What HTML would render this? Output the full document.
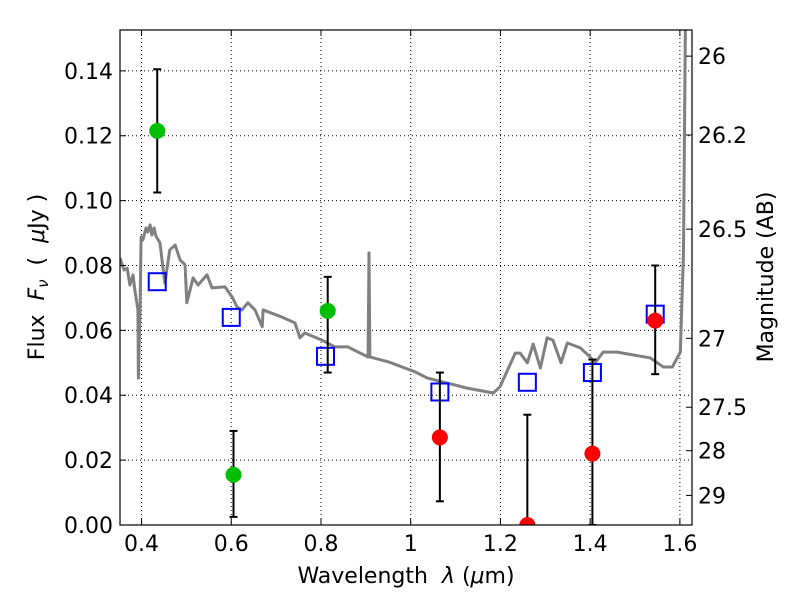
<!DOCTYPE html>
<html><head><meta charset="utf-8"><style>
body{margin:0;background:#fff}
svg text{font-family:"DejaVu Sans","Liberation Sans",sans-serif;fill:#000;white-space:pre}
</style></head><body>
<svg id="c" width="800" height="600"></svg>
<script>
const specWl=[0.352,0.361,0.368,0.374,0.381,0.385,0.392,0.393,0.397,0.399,0.403,0.410,0.414,0.419,0.423,0.428,0.432,0.441,0.452,0.463,0.475,0.486,0.497,0.501,0.515,0.526,0.546,0.557,0.586,0.602,0.613,0.624,0.637,0.653,0.669,0.671,0.713,0.742,0.753,0.764,0.802,0.831,0.860,0.905,0.907,0.909,0.950,1.010,1.037,1.126,1.184,1.199,1.233,1.244,1.260,1.273,1.289,1.304,1.317,1.335,1.349,1.378,1.400,1.411,1.429,1.460,1.534,1.563,1.583,1.601,1.608,1.615];
const specFlux=[0.0823,0.0786,0.0792,0.0740,0.0771,0.0725,0.0663,0.0453,0.0694,0.0888,0.0879,0.0916,0.0903,0.0925,0.0894,0.0916,0.0891,0.0870,0.0746,0.0848,0.0863,0.0817,0.0802,0.0685,0.0762,0.0740,0.0771,0.0731,0.0734,0.0703,0.0672,0.0663,0.0685,0.0663,0.0611,0.0663,0.0641,0.0623,0.0577,0.0592,0.0570,0.0549,0.0549,0.0518,0.0839,0.0518,0.0503,0.0472,0.0453,0.0422,0.0407,0.0426,0.0530,0.0530,0.0500,0.0558,0.0484,0.0577,0.0570,0.0500,0.0561,0.0546,0.0518,0.0500,0.0533,0.0533,0.0515,0.0487,0.0487,0.0533,0.0839,0.2];
const greenWl=[0.435,0.605,0.815];
const greenFlux=[0.1215,0.0155,0.066];
const greenLo=[0.1025,0.0025,0.047];
const greenHi=[0.1405,0.029,0.0765];
const redWl=[1.065,1.26,1.405,1.545];
const redFlux=[0.027,0.0,0.022,0.063];
const redLo=[0.0073,0.0,0.0,0.0465];
const redHi=[0.047,0.034,0.051,0.080];
const modelWl=[0.435,0.6,0.81,1.065,1.26,1.405,1.545];
const modelFlux=[0.075,0.064,0.052,0.041,0.044,0.047,0.065];
const xTicks=[0.4,0.6,0.8,1.0,1.2,1.4,1.6];
const xTickLabels=["0.4","0.6","0.8","1","1.2","1.4","1.6"];
const yTicks=[0,0.02,0.04,0.06,0.08,0.10,0.12,0.14];
const yTickLabels=["0.00","0.02","0.04","0.06","0.08","0.10","0.12","0.14"];
const magTicks=[26,26.2,26.5,27,27.5,28,29];
const magTickLabels=["26","26.2","26.5","27","27.5","28","29"];

const L=120,R=692,T=30,B=525,X0=0.352,X1=1.627,Y0=0,Y1=0.1526;
const sx=v=>L+(v-X0)/(X1-X0)*(R-L);
const sy=v=>B-(v-Y0)/(Y1-Y0)*(B-T);
const magToFlux=m=>Math.pow(10,(23.9-m)/2.5);
const svg=document.getElementById('c');
const NS='http://www.w3.org/2000/svg';
function mk(tag,attrs,parent){const e=document.createElementNS(NS,tag);for(const k in attrs)e.setAttribute(k,attrs[k]);(parent||svg).appendChild(e);return e;}

const defs=mk('defs',{});const cp=mk('clipPath',{id:'clip'},defs);mk('rect',{x:L,y:T,width:R-L,height:B-T},cp);
const grid=mk('g',{stroke:'#000','stroke-width':1,'stroke-dasharray':'1,3'});


xTicks.forEach(v=>mk('line',{x1:sx(v),x2:sx(v),y1:T,y2:B},grid));
yTicks.forEach(v=>mk('line',{x1:L,x2:R,y1:sy(v),y2:sy(v)},grid));

const plot=mk('g',{'clip-path':'url(#clip)'});
const sp=mk('polyline',{points:specWl.map((w,i)=>sx(w)+','+sy(specFlux[i])).join(' '),fill:'none',stroke:'#808080','stroke-width':3,'stroke-linejoin':'round'},plot);



function errbars(wl,lo,hi,name){
  wl.forEach((w,i)=>{const g=mk('g',{stroke:'#000','stroke-width':2},plot);
    
    
    const x=sx(w);mk('line',{x1:x,x2:x,y1:sy(lo[i]),y2:sy(hi[i])},g);
    mk('line',{x1:x-4,x2:x+4,y1:sy(lo[i]),y2:sy(lo[i])},g);
    mk('line',{x1:x-4,x2:x+4,y1:sy(hi[i]),y2:sy(hi[i])},g);});
}
modelWl.forEach((w,i)=>{const r=mk('rect',{x:sx(w)-8.5,y:sy(modelFlux[i])-8.5,width:17,height:17,fill:'none',stroke:'#0000ff','stroke-width':2},plot);
  
  });
errbars(greenWl,greenLo,greenHi,'green-error-bar');
errbars(redWl,redLo,redHi,'red-error-bar');
greenWl.forEach((w,i)=>{const c=mk('circle',{cx:sx(w),cy:sy(greenFlux[i]),r:8,fill:'#00bf00'},plot);
  
  });
redWl.forEach((w,i)=>{const c=mk('circle',{cx:sx(w),cy:sy(redFlux[i]),r:8,fill:'#ff0000'},plot);
  
  });

const frame=mk('rect',{x:L,y:T,width:R-L,height:B-T,fill:'none',stroke:'#000','stroke-width':1.2});



const tk=mk('g',{stroke:'#000','stroke-width':1});
xTicks.forEach((v,i)=>{const x=sx(v);mk('line',{x1:x,x2:x,y1:B,y2:B-6},tk);mk('line',{x1:x,x2:x,y1:T,y2:T+6},tk);
  const t=mk('text',{x:x,y:B+26,'text-anchor':'middle','font-size':22});t.textContent=xTickLabels[i];
  
  });
yTicks.forEach((v,i)=>{const y=sy(v);mk('line',{x1:L,x2:L+6,y1:y,y2:y},tk);
  const t=mk('text',{x:L-7,y:y+8,'text-anchor':'end','font-size':22});t.textContent=yTickLabels[i];
  
  });
magTicks.forEach((m,i)=>{const y=sy(magToFlux(m));mk('line',{x1:R,x2:R-6,y1:y,y2:y},tk);
  const t=mk('text',{x:R+6,y:y+8,'font-size':22});t.textContent=magTickLabels[i];
  
  });

const xl=mk('text',{x:406,y:583,'text-anchor':'middle','font-size':22});
xl.innerHTML='Wavelength  <tspan font-style="italic">λ</tspan> (<tspan font-style="italic">μ</tspan>m)';


const yl=mk('text',{x:0,y:0,'text-anchor':'middle','font-size':22,transform:'translate(44,277) rotate(-90)'});
yl.innerHTML='Flux  <tspan font-style="italic">F</tspan><tspan font-style="italic" font-size="15" dy="4">ν</tspan><tspan dy="-4">  (  </tspan><tspan font-style="italic">μ</tspan>Jy )';


const rl=mk('text',{x:0,y:0,'text-anchor':'middle','font-size':22,transform:'translate(773,277) rotate(-90)'});
rl.textContent='Magnitude (AB)';


</script>
</body></html>
